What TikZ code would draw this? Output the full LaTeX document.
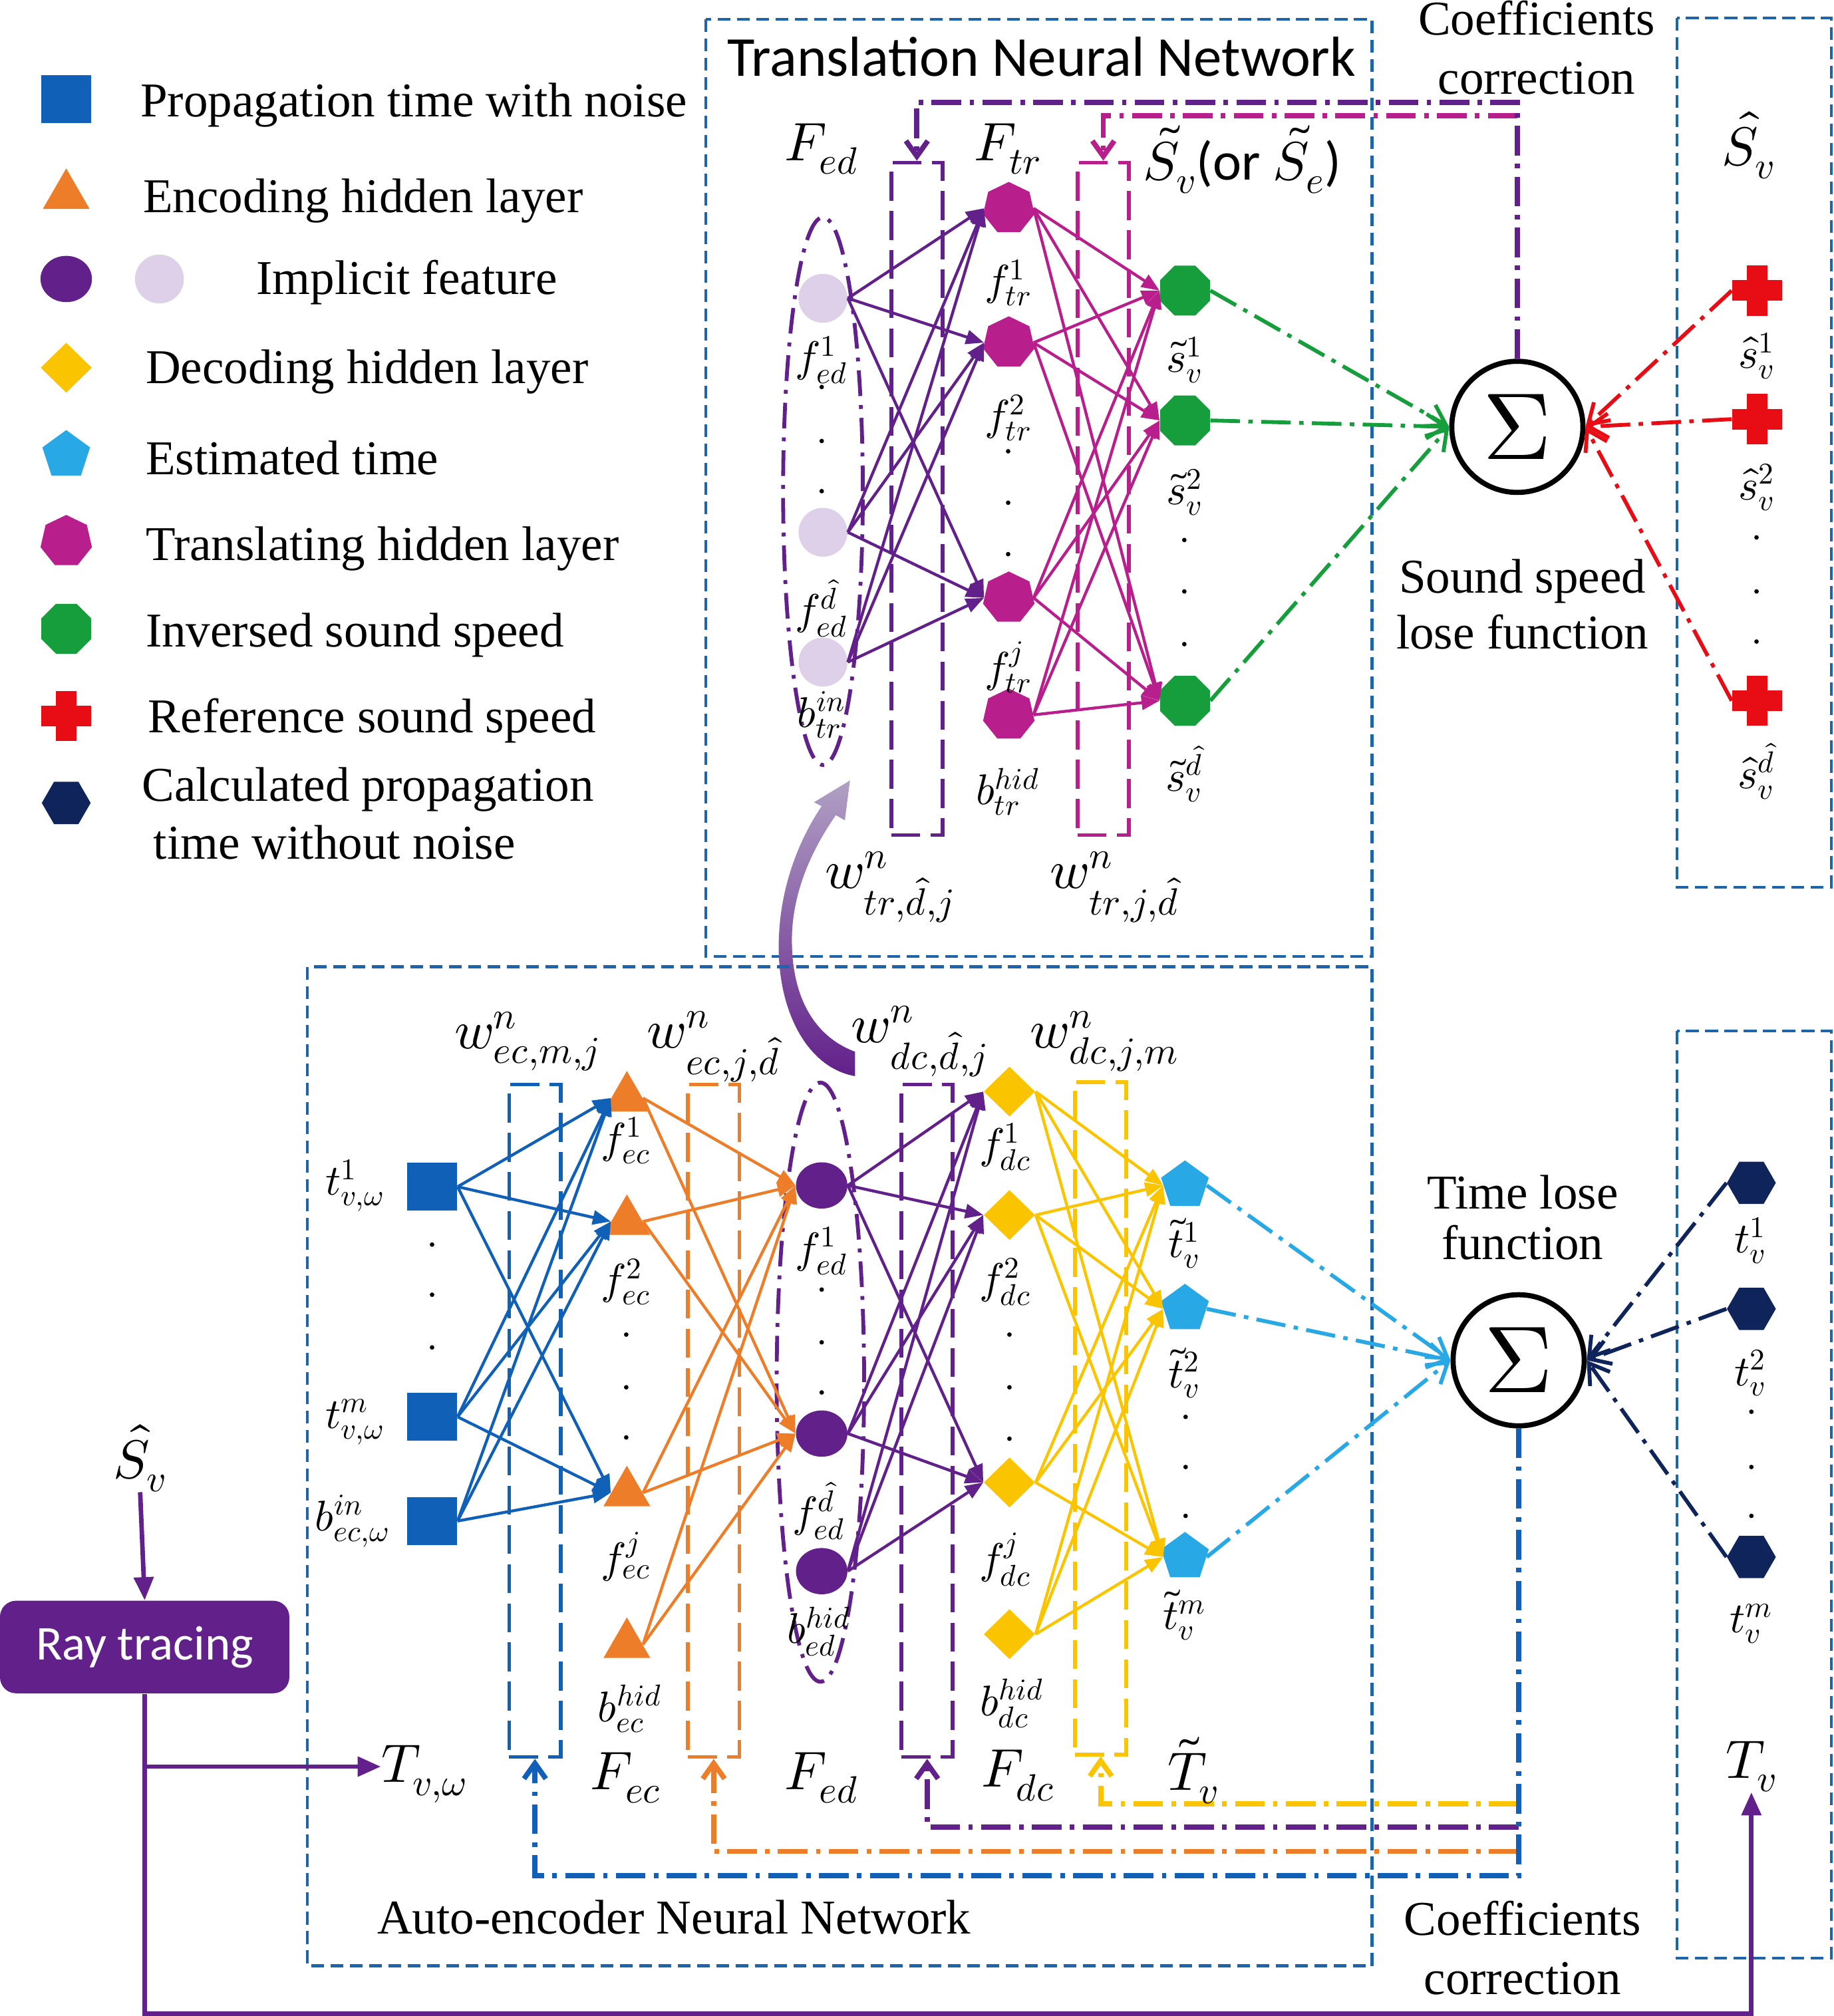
\documentclass[tikz,border=0pt]{standalone}
\usepackage{fontspec}
\usepackage{unicode-math}
\setmainfont{Liberation Serif}
\setmathfont{Latin Modern Math}
\newfontfamily\carl{Carlito}
\usetikzlibrary{shapes.geometric,arrows.meta}

\definecolor{cBox}{RGB}{30,100,170}
\definecolor{cBlu}{RGB}{16,96,184}
\definecolor{cOra}{RGB}{237,125,40}
\definecolor{cPur}{RGB}{98,32,138}
\definecolor{cLil}{RGB}{222,208,232}
\definecolor{cYel}{RGB}{250,196,0}
\definecolor{cSky}{RGB}{40,168,228}
\definecolor{cMag}{RGB}{184,30,140}
\definecolor{cGrn}{RGB}{22,158,60}
\definecolor{cRed}{RGB}{232,12,20}
\definecolor{cNavy}{RGB}{16,36,92}
\definecolor{cArw}{RGB}{176,160,196}

\tikzset{
  sqnode/.style={rectangle, fill=cBlu, minimum width=7.8mm, minimum height=7.4mm, inner sep=0},
  trinode/.style={regular polygon, regular polygon sides=3, fill=cOra, minimum size=8.4mm, inner sep=0},
  ednode/.style={ellipse, fill=cPur, minimum width=8mm, minimum height=7.2mm, inner sep=0},
  ltnode/.style={circle, fill=cLil, minimum size=7.6mm, inner sep=0},
  dianode/.style={diamond, fill=cYel, minimum width=8mm, minimum height=7.8mm, inner sep=0},
  pentnode/.style={regular polygon, regular polygon sides=5, fill=cSky, minimum size=7.8mm, inner sep=0},
  heptnode/.style={regular polygon, regular polygon sides=7, fill=cMag, minimum size=8.2mm, inner sep=0},
  octnode/.style={regular polygon, regular polygon sides=8, fill=cGrn, minimum size=8.4mm, inner sep=0},
  hexnode/.style={regular polygon, regular polygon sides=6, fill=cNavy, minimum size=7.6mm, inner sep=0},
  crossnode/.style={minimum size=7.8mm, inner sep=0, path picture={
    \fill[cRed] ([yshift=-1.6mm]path picture bounding box.west) rectangle ([yshift=1.6mm]path picture bounding box.east);
    \fill[cRed] ([xshift=-1.6mm]path picture bounding box.south) rectangle ([xshift=1.6mm]path picture bounding box.north);}},
  sumnode/.style={circle, draw=black, line width=0.8mm, minimum size=20.4mm, inner sep=0, font=\fontsize{42}{42}\selectfont},
  txt/.style={font=\fontsize{21.5}{25}\selectfont, inner sep=0},
  mlab/.style={font=\fontsize{19}{22}\selectfont, inner sep=0},
  mbig/.style={font=\fontsize{24}{28}\selectfont, inner sep=0},
  ebox/.style={draw=cBox, line width=0.45mm, dash pattern=on 2mm off 1mm},
  wbox/.style={line width=0.6mm, dash pattern=on 4.5mm off 1.6mm, minimum width=8mm, minimum height=104.6mm, inner sep=0},
  edell/.style={ellipse, draw=cPur, line width=0.6mm, dash pattern=on 4mm off 1.4mm on 0.6mm off 1.4mm, inner sep=0},
  dd/.style={dash pattern=on 4.6mm off 1.3mm on 0.7mm off 1.3mm},
  fb/.style={line width=0.8mm, dd, -{Straight Barb[length=2.4mm,width=3.4mm]}},
  lossarr/.style={line width=0.6mm, dd, -{Straight Barb[length=3mm,width=3.8mm]}},
  conn/.style={line width=0.45mm, -{Triangle[length=2.8mm,width=2.2mm]}},
  rayarr/.style={line width=0.7mm, draw=cPur, -{Triangle[length=3.6mm,width=3mm]}},
  raybox/.style={rectangle, rounded corners=2.5mm, fill=cPur, text=white, font=\carl\fontsize{21.5}{25}\selectfont, minimum width=45mm, minimum height=14.4mm}
}

\begin{document}
\begin{tikzpicture}[x=0.2mm,y=-0.2mm]
  \useasboundingbox (0,0) rectangle (1426,1568);

  % legend
  \node[sqnode] (lg1) at (51.5,77) {};
  \node[txt, anchor=mid west] (lgt1) at (109,87) {Propagation time with noise};
  \node[trinode] (lg2) at (51.5,152) {};
  \node[txt, anchor=mid west] (lgt2) at (111,161) {Encoding hidden layer};
  \node[ednode] (lg3) at (51.5,217) {};
  \node[ltnode] (lg3b) at (124,217) {};
  \node[txt, anchor=mid west] (lgt3) at (199,225) {Implicit feature};
  \node[dianode] (lg4) at (51.5,286) {};
  \node[txt, anchor=mid west] (lgt4) at (113,294) {Decoding hidden layer};
  \node[pentnode] (lg5) at (51.5,354) {};
  \node[txt, anchor=mid west] (lgt5) at (113,365) {Estimated time};
  \node[heptnode] (lg6) at (51.5,421) {};
  \node[txt, anchor=mid west] (lgt6) at (113,432) {Translating hidden layer};
  \node[octnode] (lg7) at (51.5,489) {};
  \node[txt, anchor=mid west] (lgt7) at (113,499) {Inversed sound speed};
  \node[crossnode] (lg8) at (51.5,557) {};
  \node[txt, anchor=mid west] (lgt8) at (115,566) {Reference sound speed};
  \node[hexnode] (lg9) at (51.5,624.5) {};
  \node[txt, anchor=mid west] (lgt9) at (110,619) {Calculated propagation};
  \node[txt, anchor=mid west] (lgt10) at (119,664) {time without noise};

  % translation network
  \draw[ebox] (549,15) rectangle (1067,744);
  \draw[ebox] (1304,14) rectangle (1424,690);
  \node[font=\carl\fontsize{25}{30}\selectfont] (ttl) at (810,44) {Translation Neural Network};
  \node[txt, align=center, font=\fontsize{21.5}{26}\selectfont] (cc1) at (1195,37) {Coefficients\\correction};
  \node[txt, align=center, font=\fontsize{21.5}{25}\selectfont] (ssl) at (1184,470) {Sound speed\\lose function};

  \node[edell, minimum width=12.4mm, minimum height=85.2mm] (elt) at (640,382) {};
  \node[wbox, draw=cPur] (wt1) at (713,388) {};
  \node[wbox, draw=cMag] (wt2) at (858,388) {};

  \node[ltnode] (edt1) at (640,232) {};
  \node[ltnode] (edt2) at (640,414) {};
  \node[ltnode] (edt3) at (640,515) {};
  \node[heptnode] (tr1) at (784.5,162) {};
  \node[heptnode] (tr2) at (784.5,266.5) {};
  \node[heptnode] (tr3) at (784.5,465) {};
  \node[heptnode] (tr4) at (784.5,556) {};
  \node[octnode] (sv1) at (921.5,226) {};
  \node[octnode] (sv2) at (921.5,327) {};
  \node[octnode] (sv3) at (921.5,545) {};
  \node[sumnode] (sig1) at (1180,332) {$\Sigma$};
  \node[crossnode] (rs1) at (1366.5,226) {};
  \node[crossnode] (rs2) at (1366.5,326) {};
  \node[crossnode] (rs3) at (1366.5,545) {};

  \foreach \s in {1,2,3}
    \foreach \t in {1,2,3}
      \draw[conn, cPur] (edt\s.east) -- (tr\t.west);
  \foreach \s in {1,...,4}
    \foreach \t in {1,2,3}
      \draw[conn, cMag] (tr\s.east) -- (sv\t.west);
  \foreach \t in {1,2,3}
    \draw[lossarr, cGrn] (sv\t.east) -- (sig1.west);
  \foreach \t in {1,2,3}
    \draw[lossarr, cRed] (rs\t.west) -- (sig1.east);

  \coordinate (cp) at (1180,79.5);
  \coordinate (cm) at (1180,90);
  \draw[fb, cMag] (cm) -| (wt2.north);
  \draw[fb, cPur] (sig1.north) -- (cp) -| (wt1.north);

  \node[mbig] (lfedt) at (639,116) {$F_{ed}$};
  \node[mbig] (lftr) at (784,116) {$F_{tr}$};
  \node[mbig] (lsv) at (966,124) {$\tilde{S}_v${\carl(or }$\tilde{S}_e${\carl)}};
  \node[mbig] (lshat) at (1360,113) {$\hat{S}_v$};
  \node[mlab] (lfe1) at (639,280) {$f_{ed}^{1}$};
  \node[mlab] (lfe2) at (639,473) {$f_{ed}^{\hat{d}}$};
  \node[mlab] (lbtr) at (639,556) {$b_{tr}^{in}$};
  \node[mlab] (lft1) at (784,220) {$f_{tr}^{1}$};
  \node[mlab] (lft2) at (784,325) {$f_{tr}^{2}$};
  \node[mlab] (lft3) at (784,519) {$f_{tr}^{j}$};
  \node[mlab] (lbth) at (784,616) {$b_{tr}^{hid}$};
  \node[mlab] (lsv1) at (921,280) {$\tilde{s}_v^{1}$};
  \node[mlab] (lsv2) at (921,383) {$\tilde{s}_v^{2}$};
  \node[mlab] (lsv3) at (921,602) {$\tilde{s}_v^{\hat{d}}$};
  \node[mlab] (lrs1) at (1366,277) {$\hat{s}_v^{1}$};
  \node[mlab] (lrs2) at (1366,379) {$\hat{s}_v^{2}$};
  \node[mlab] (lrs3) at (1366,600) {$\hat{s}_v^{\hat{d}}$};
  \node[mbig] (lwt1) at (692,690) {$w_{tr,\hat{d},j}^{n}$};
  \node[mbig] (lwt2) at (867,690) {$w_{tr,j,\hat{d}}^{n}$};
  \foreach \y in {301,343,382} \fill (639,\y) circle (0.35mm);
  \foreach \y in {351,391,431} \fill (784,\y) circle (0.35mm);
  \foreach \y in {420,460,501} \fill (921,\y) circle (0.35mm);
  \foreach \y in {418,460,499} \fill (1366,\y) circle (0.35mm);

  % arrow between the two networks
  \shade[top color=cArw, bottom color=cPur] (665,837) .. controls (625,830) and (602,780) .. (606,724)
    .. controls (608,690) and (620,655) .. (639,627) -- (633,624) -- (661,607) -- (657,638) -- (650,634)
    .. controls (632,660) and (618,690) .. (616,724)
    .. controls (614,770) and (630,805) .. (665,818) -- cycle;

  % auto-encoder network
  \draw[ebox] (239,752) rectangle (1067,1529);
  \draw[ebox] (1304,802) rectangle (1424,1523);
  \node[txt, anchor=mid west] (aetxt) at (293,1500) {Auto-encoder Neural Network};
  \node[txt, align=center, font=\fontsize{21.5}{26}\selectfont] (cc2) at (1184,1515) {Coefficients\\correction};
  \node[txt, align=center, font=\fontsize{21.5}{22.5}\selectfont] (tlf) at (1184,947) {Time lose\\function};

  \node[edell, minimum width=13.6mm, minimum height=93.2mm] (elb) at (638,1075) {};
  \node[wbox, draw=cBlu] (wb1) at (416,1105) {};
  \node[wbox, draw=cOra] (wb2) at (555,1105) {};
  \node[wbox, draw=cPur] (wb3) at (721,1105) {};
  \node[wbox, draw=cYel] (wb4) at (856,1103) {};

  \node[sqnode] (in1) at (336,923) {};
  \node[sqnode] (in2) at (336,1102) {};
  \node[sqnode] (in3) at (336,1183) {};
  \node[trinode] (ec1) at (487.5,854) {};
  \node[trinode] (ec2) at (487.5,950) {};
  \node[trinode] (ec3) at (487.5,1161) {};
  \node[trinode] (ec4) at (487.5,1279) {};
  \node[ednode] (edb1) at (639,922) {};
  \node[ednode] (edb2) at (639,1115) {};
  \node[ednode] (edb3) at (639,1222) {};
  \node[dianode] (dc1) at (785,849) {};
  \node[dianode] (dc2) at (785,945) {};
  \node[dianode] (dc3) at (785,1153) {};
  \node[dianode] (dc4) at (785,1271) {};
  \node[pentnode] (tv1) at (921.5,922) {};
  \node[pentnode] (tv2) at (921.5,1018) {};
  \node[pentnode] (tv3) at (921.5,1211) {};
  \node[sumnode] (sig2) at (1181,1058) {$\Sigma$};
  \node[hexnode] (tt1) at (1362,920) {};
  \node[hexnode] (tt2) at (1362,1018) {};
  \node[hexnode] (tt3) at (1362,1211) {};

  \foreach \s in {1,2,3}
    \foreach \t in {1,2,3}
      \draw[conn, cBlu] (in\s.east) -- (ec\t.west);
  \foreach \s in {1,...,4}
    \foreach \t in {1,2}
      \draw[conn, cOra] (ec\s.east) -- (edb\t.west);
  \foreach \s in {1,2,3}
    \foreach \t in {1,2,3}
      \draw[conn, cPur] (edb\s.east) -- (dc\t.west);
  \foreach \s in {1,...,4}
    \foreach \t in {1,2,3}
      \draw[conn, cYel] (dc\s.east) -- (tv\t.west);
  \foreach \t in {1,2,3}
    \draw[lossarr, cSky] (tv\t.east) -- (sig2.west);
  \foreach \t in {1,2,3}
    \draw[lossarr, cNavy] (tt\t.west) -- (sig2.east);

  \coordinate (cb) at (1181,1459);
  \coordinate (co) at (1181,1440);
  \coordinate (cq) at (1181,1421);
  \coordinate (cy) at (1181,1403);
  \draw[fb, cOra] (co) -| (wb2.south);
  \draw[fb, cPur] (cq) -| (wb3.south);
  \draw[fb, cYel] (cy) -| (wb4.south);
  \draw[fb, cBlu] (sig2.south) -- (cb) -| (wb1.south);

  \node[mlab] (lt1) at (276,922) {$t_{v,\omega}^{1}$};
  \node[mlab] (lt2) at (276,1106) {$t_{v,\omega}^{m}$};
  \node[mlab] (lbin) at (274,1183) {$b_{ec,\omega}^{in}$};
  \node[mlab] (lfc1) at (487,887) {$f_{ec}^{1}$};
  \node[mlab] (lfc2) at (487,997) {$f_{ec}^{2}$};
  \node[mlab] (lfc3) at (487,1211) {$f_{ec}^{j}$};
  \node[mlab] (lbec) at (490,1329) {$b_{ec}^{hid}$};
  \node[mlab] (lfb1) at (639,973) {$f_{ed}^{1}$};
  \node[mlab] (lfb2) at (637,1175) {$f_{ed}^{\hat{d}}$};
  \node[mlab] (lbed) at (637,1269) {$b_{ed}^{hid}$};
  \node[mlab] (lfd1) at (782,892) {$f_{dc}^{1}$};
  \node[mlab] (lfd2) at (782,997) {$f_{dc}^{2}$};
  \node[mlab] (lfd3) at (782,1213) {$f_{dc}^{j}$};
  \node[mlab] (lbdc) at (787,1325) {$b_{dc}^{hid}$};
  \node[mlab] (ltv1) at (921,967) {$\tilde{t}_v^{1}$};
  \node[mlab] (ltv2) at (921,1068) {$\tilde{t}_v^{2}$};
  \node[mlab] (ltv3) at (921,1256) {$\tilde{t}_v^{m}$};
  \node[mlab] (ltt1) at (1361,965) {$t_v^{1}$};
  \node[mlab] (ltt2) at (1361,1068) {$t_v^{2}$};
  \node[mlab] (ltt3) at (1362,1263) {$t_v^{m}$};
  \node[mbig] (lw1) at (410,810) {$w_{ec,m,j}^{n}$};
  \node[mbig] (lw2) at (555,814) {$w_{ec,j,\hat{d}}^{n}$};
  \node[mbig] (lw3) at (715,810) {$w_{dc,\hat{d},j}^{n}$};
  \node[mbig] (lw4) at (859,810) {$w_{dc,j,m}^{n}$};
  \node[mbig] (lfec) at (487,1383) {$F_{ec}$};
  \node[mbig] (lfedb) at (639,1383) {$F_{ed}$};
  \node[mbig] (lfdc) at (792,1381) {$F_{dc}$};
  \node[mbig] (ltvt) at (928,1377) {$\tilde{T}_v$};
  \foreach \y in {968,1007,1048} \fill (336,\y) circle (0.35mm);
  \foreach \y in {1038,1079,1118} \fill (487,\y) circle (0.35mm);
  \foreach \y in {1003,1044,1083} \fill (639,\y) circle (0.35mm);
  \foreach \y in {1038,1079,1119} \fill (785,\y) circle (0.35mm);
  \foreach \y in {1102,1141,1179} \fill (922,\y) circle (0.35mm);
  \foreach \y in {1098,1141,1179} \fill (1362,\y) circle (0.35mm);

  % ray tracing
  \node[mbig] (svh) at (109,1134) {$\hat{S}_v$};
  \node[raybox] (ray) at (112.5,1281) {Ray tracing};
  \node[mbig] (tvw) at (330,1380) {$T_{v,\omega}$};
  \node[mbig] (tv) at (1362,1374) {$T_v$};
  \coordinate (cbr) at (112.5,1374);
  \coordinate (cbot) at (1362,1566);
  \draw[rayarr] (svh.south) -- (ray.north);
  \draw[rayarr] (ray.south) |- (cbot) -- (tv.south);
  \draw[rayarr] (cbr) -- (tvw.west |- cbr);
\end{tikzpicture}
\end{document}
